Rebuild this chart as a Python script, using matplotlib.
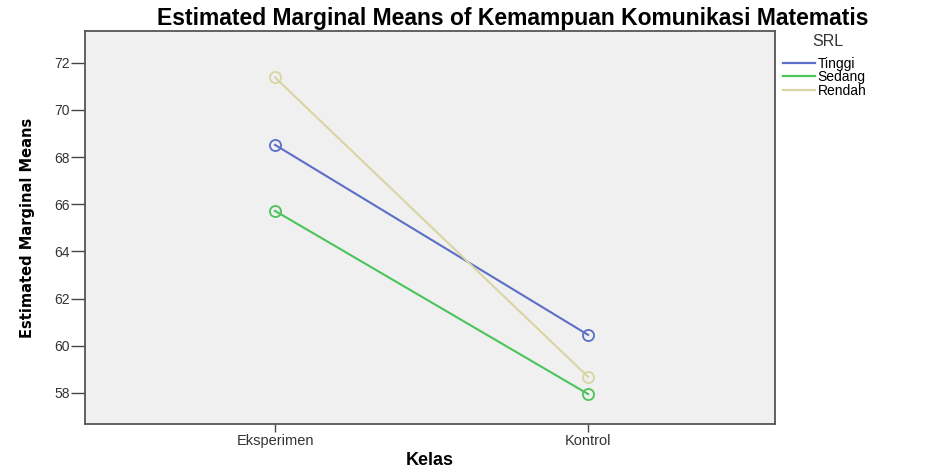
import matplotlib.pyplot as plt
from matplotlib.lines import Line2D

# data
kelas = ['Eksperimen', 'Kontrol']
srl_groups = ['Tinggi', 'Sedang', 'Rendah']
tinggi = [68.52, 60.46]
sedang = [65.72, 57.95]
rendah = [71.38, 58.68]
yticks = [58, 60, 62, 64, 66, 68, 70, 72]

colors = {'Tinggi': '#5b6fc6', 'Sedang': '#4bc45a', 'Rendah': '#d9d5a3'}
series = {'Tinggi': tinggi, 'Sedang': sedang, 'Rendah': rendah}

plt.rcParams['font.family'] = ['Liberation Sans', 'DejaVu Sans']

fig = plt.figure(figsize=(9.33, 4.68), dpi=100)
ax = fig.add_axes([85 / 933, 1 - 424 / 468, 690 / 933, 393 / 468])
ax.set_facecolor('#f0f0f0')

xs = list(range(len(kelas)))
for name in srl_groups:
    ax.plot(xs, series[name], color=colors[name], lw=1.5, marker='o', ms=8,
            mfc='none', mec=colors[name], mew=1.3, zorder=3)

ax.set_xlim(-0.607, 1.597)
ax.set_ylim(56.68, 73.35)
ax.set_xticks(xs)
ax.set_xticklabels(kelas)
ax.set_yticks(yticks)
ax.tick_params(axis='y', length=10, width=1, color='#444444', labelsize=10,
               labelcolor='#333333', pad=1)
ax.tick_params(axis='x', length=6, width=1, color='#444444', labelsize=10.5,
               labelcolor='#333333', pad=1)
for s in ax.spines.values():
    s.set_color('#555555')
    s.set_linewidth(1.3)

ax.set_ylabel('Estimated Marginal Means', family=['Liberation Sans Narrow', 'DejaVu Sans'],
              fontweight='bold', fontsize=10.5, labelpad=14)
ax.set_xlabel('Kelas', fontweight='bold', fontsize=13, labelpad=3)
fig.text(513 / 933, 1 - 18 / 468, 'Estimated Marginal Means of Kemampuan Komunikasi Matematis',
         ha='center', va='center', fontweight='bold', fontsize=16.5)

# legend on the right
fig.text(812 / 933, 1 - 42 / 468, 'SRL', ha='left', va='center', fontsize=11.5, color='#333333')
handles = [Line2D([0], [0], color=colors[n], lw=1.6) for n in srl_groups]
fig.legend(handles, srl_groups, loc='upper left', bbox_to_anchor=(783 / 933, 1 - 57 / 468),
           frameon=False, fontsize=10, handlelength=2.3, handletextpad=0.2,
           labelspacing=-0.05, borderaxespad=0, borderpad=0)

fig.savefig('out.png', dpi=100, facecolor='white')
